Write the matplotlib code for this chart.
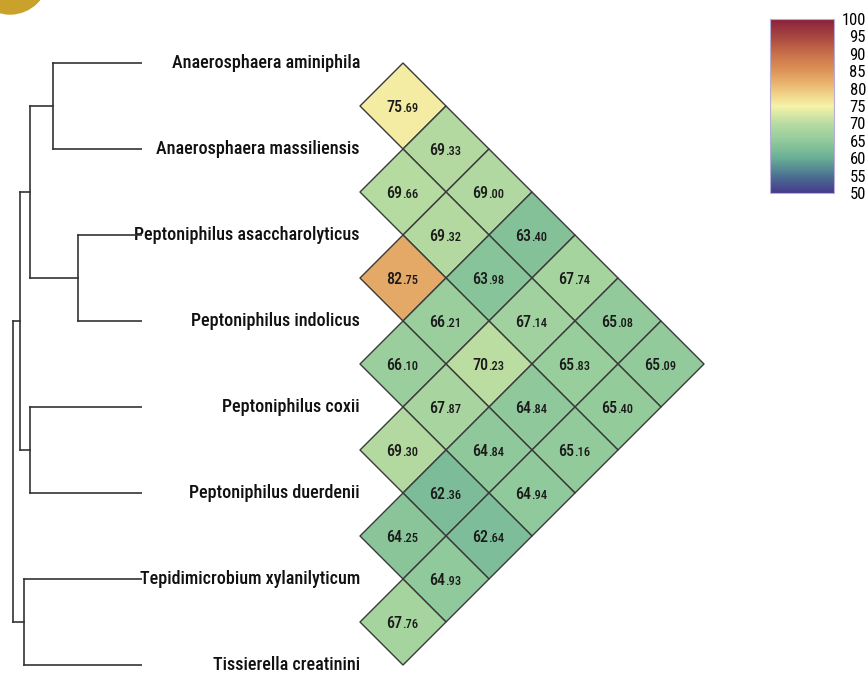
import matplotlib
matplotlib.use("Agg")
import matplotlib.pyplot as plt
from matplotlib import font_manager as fm
from matplotlib.collections import PolyCollection
from matplotlib.colors import LinearSegmentedColormap
from matplotlib.patches import Ellipse

installed = {f.name for f in fm.fontManager.ttflist}
narrow = "Roboto Condensed" in installed
plt.rcParams['font.family'] = ['Roboto Condensed' if narrow else 'Roboto', 'DejaVu Sans']
label_size = 13 if narrow else 11.2
cell_big, cell_small = (11.5, 9) if narrow else (10, 8)

species = ["Anaerosphaera aminiphila", "Anaerosphaera massiliensis",
           "Peptoniphilus asaccharolyticus", "Peptoniphilus indolicus",
           "Peptoniphilus coxii", "Peptoniphilus duerdenii",
           "Tepidimicrobium xylanilyticum", "Tissierella creatinini"]

# upper triangle, row i holds pairs (i, i+1..7)
ani_rows = [
    [75.69, 69.33, 69.00, 63.40, 67.74, 65.08, 65.09],
    [69.66, 69.32, 63.98, 67.14, 65.83, 65.40],
    [82.75, 66.21, 70.23, 64.84, 65.16],
    [66.10, 67.87, 64.84, 64.94],
    [69.30, 62.36, 62.64],
    [64.25, 64.93],
    [67.76],
]

# dendrogram merges (child a, child b, height); new nodes numbered from 8
merges = [(0, 1, 89), (2, 3, 64), (4, 5, 112), (6, 7, 118),
          (8, 9, 112), (12, 10, 122), (13, 11, 129)]

cbar_ticks = list(range(50, 101, 5))
cmap_stops = ["#463a8c", "#4b7391", "#69af96", "#91ca9b", "#b9dca2", "#f5f3a8",
              "#eec27a", "#dd9558", "#c9704a", "#a8463f", "#8a213c"]
cmap = LinearSegmentedColormap.from_list("ani", cmap_stops)

W, H = 866, 674
fig = plt.figure(figsize=(W / 100, H / 100), dpi=100)

# shared vertical scale: leaf 0 at 63px, 86px per leaf
y_top, step = 63, 86
ylim = ((H - y_top) / step, -y_top / step)

# heatmap axes, x = column distance, 43px per column, column 1 centred at 403px
hx0 = 142
axh = fig.add_axes([hx0 / W, 0, 1 - hx0 / W, 1])
axh.set_xlim((hx0 - 403) / 43 + 1, (W - 403) / 43 + 1)
axh.set_ylim(*ylim)
axh.axis("off")

polys, vals, centres = [], [], []
for i, row in enumerate(ani_rows):
    for k, v in enumerate(row):
        j = i + k + 1
        d = j - i
        c = (i + j) / 2
        polys.append([(d - 1, c), (d, c - 0.5), (d + 1, c), (d, c + 0.5)])
        vals.append(v)
        centres.append((d, c))

pc = PolyCollection(polys, cmap=cmap, edgecolors="#3a3a3a", linewidths=1.0)
pc.set_array(vals)
pc.set_clim(50, 100)
axh.add_collection(pc)

for (d, c), v in zip(centres, vals):
    whole, frac = f"{v:.2f}".split(".")
    axh.annotate(whole, (d, c), xytext=(-0.5, -4), textcoords="offset points",
                 ha="right", va="baseline", fontsize=cell_big, fontweight="medium",
                 color="#1a1a1a")
    axh.annotate("." + frac, (d, c), xytext=(-0.5, -4), textcoords="offset points",
                 ha="left", va="baseline", fontsize=cell_small, fontweight="medium",
                 color="#1a1a1a")

for i, name in enumerate(species):
    axh.text(0, i, name, ha="right", va="center", fontsize=label_size,
             fontweight="medium", color="#111111")

# dendrogram
axd = fig.add_axes([0, 0, hx0 / W, 1])
axd.set_xlim(hx0, 0)
axd.set_ylim(*ylim)
axd.axis("off")

node_y = {i: float(i) for i in range(len(species))}
node_h = {i: 0 for i in range(len(species))}
for n, (a, b, h) in enumerate(merges, start=len(species)):
    for ch in (a, b):
        axd.plot([node_h[ch], h], [node_y[ch], node_y[ch]], color="#333333", lw=1.2)
    axd.plot([h, h], [node_y[a], node_y[b]], color="#333333", lw=1.2)
    node_y[n] = (node_y[a] + node_y[b]) / 2
    node_h[n] = h

# colorbar
cax = fig.add_axes([770 / W, 1 - 193 / H, 64 / W, 174 / H])
cb = fig.colorbar(pc, cax=cax, ticks=cbar_ticks)
cb.outline.set_edgecolor("#b8acd8")
cb.outline.set_linewidth(0.8)
cax.tick_params(length=0, pad=23, labelsize=12)
for lab in cax.get_yticklabels():
    lab.set_horizontalalignment("right")

# gold badge corner
fig.add_artist(Ellipse((10 / W, 1 + 24 / H), 76 / W, 76 / H,
                       transform=fig.transFigure, color="#c9a12b"))

fig.savefig("out.png", dpi=100)
